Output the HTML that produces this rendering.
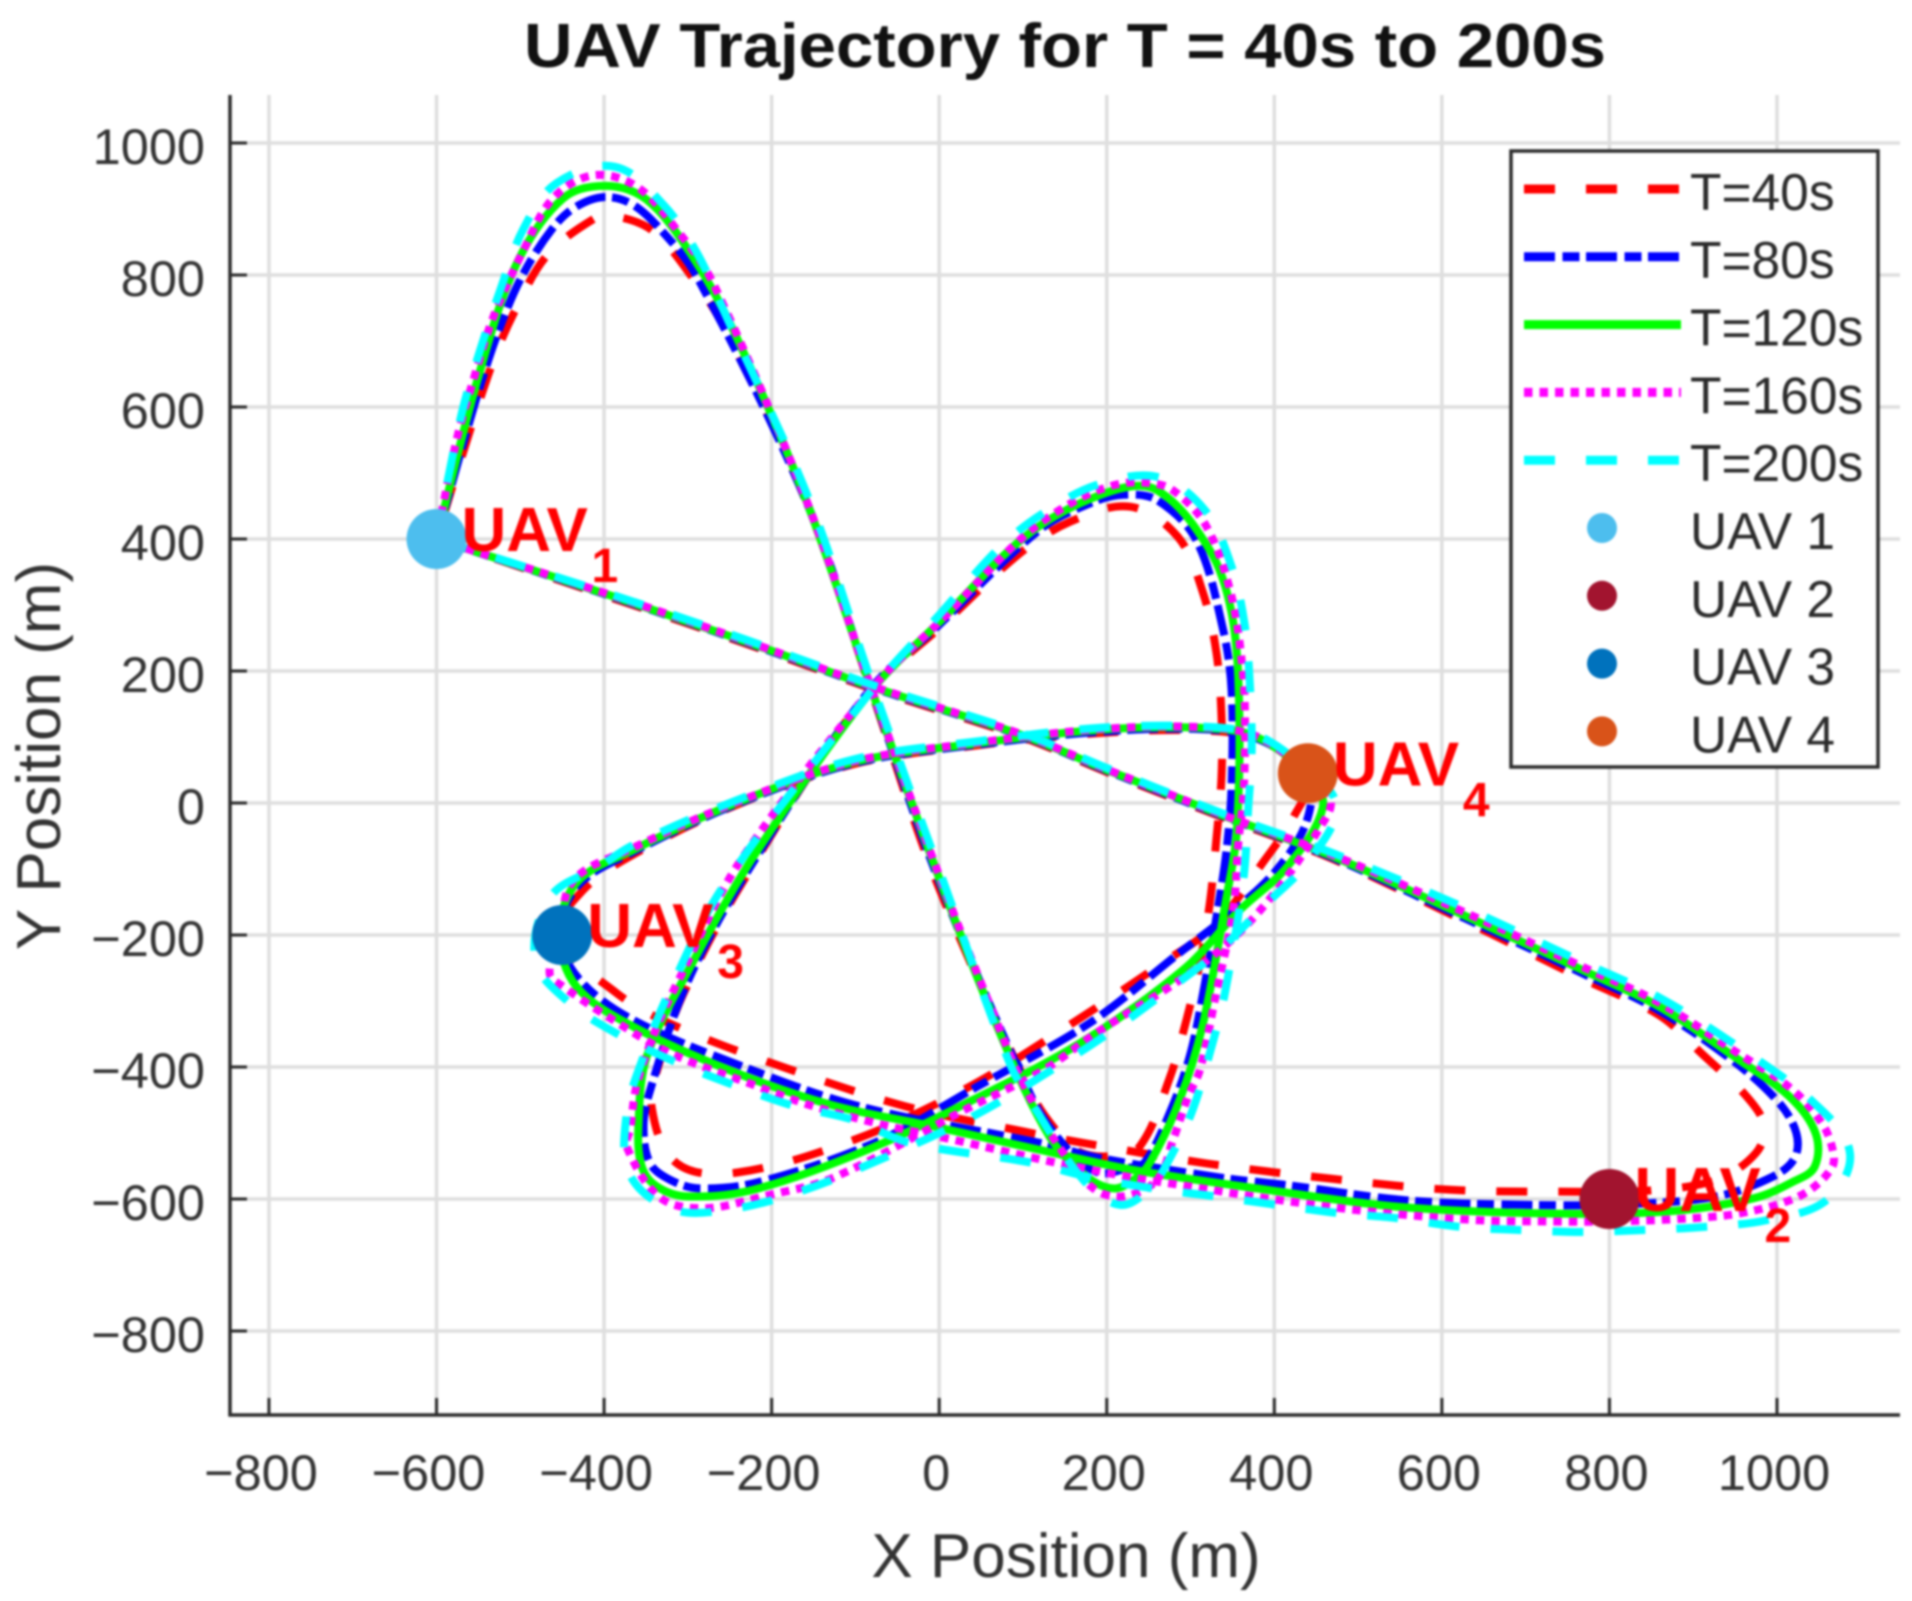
<!DOCTYPE html>
<html lang="en">
<head>
<meta charset="utf-8">
<title>UAV Trajectory for T = 40s to 200s</title>
<style>
  html, body { margin: 0; padding: 0; background: #ffffff; }
  svg { display: block; font-family: "Liberation Sans", Arial, sans-serif; filter: blur(1px); }
</style>
</head>
<body>
<svg id="chart" xmlns="http://www.w3.org/2000/svg" width="1912" height="1601" viewBox="0 0 1912 1601">
  <rect x="0" y="0" width="1912" height="1601" fill="#ffffff"/>
  <text x="1065" y="67" text-anchor="middle" font-size="62" font-weight="bold" fill="#111111" textLength="1082" lengthAdjust="spacingAndGlyphs">UAV Trajectory for T = 40s to 200s</text>
  <text x="1066" y="1577" text-anchor="middle" font-size="62" fill="#333333">X Position (m)</text>
  <text transform="translate(60 756) rotate(-90)" text-anchor="middle" font-size="62" fill="#333333">Y Position (m)</text>
  <g id="grid"></g>
  <g id="series"></g>
  <g id="markers"></g>
  <g id="labels"></g>
  <g id="axes"></g>
  <g id="legend"></g>
</svg>
<script>
// ---- chart data (metres) ----
const xTicks = [-800, -600, -400, -200, 0, 200, 400, 600, 800, 1000];
const yTicks = [-800, -600, -400, -200, 0, 200, 400, 600, 800, 1000];

const t40X = [-600,-389,-232,-73,101,200,343,470,626,771,860,912,964,985,975,930,850,757,610,466,319,172,102,-39,-182,-313,-385,-453,
  -425,-365,-248,-102,43,192,311,379,439,
  423,383,330,272,156,33,-103,-242,-313,-343,-333,-305,-238,-90,0,96,156,228,285,315,331,337,337,331,323,311,295,275,239,205,170,146,110,-3,-81,-158,-256,-295,-343,-390,-411,-468,-506,-534,-576,-600];
const t40Y = [400,310,242,170,99,47,-24,-85,-178,-268,-322,-382,-445,-490,-530,-570,-587,-589,-586,-569,-546,-515,-498,-460,-402,-339,-288,-200,
  -132,-78,-6,59,87,106,110,97,42,
  -21,-96,-185,-238,-336,-432,-511,-560,-546,-462,-389,-288,-127,160,265,378,426,449,403,318,227,131,40,-53,-152,-243,-329,-417,-521,-535,-530,-506,-440,-120,170,454,719,797,868,890,886,830,747,664,500,400];

const t80X = [-600,-389,-232,-73,101,200,343,470,626,771,860,952,1003,1023,1021,995,928,820,703,558,415,339,192,120,-94,-233,-365,-429,-453,
  -431,-365,-248,-102,43,192,311,379,439,
  439,403,345,287,180,45,-74,-214,-286,-321,-345,-353,-345,-301,-230,-85,0,120,184,220,260,307,339,349,349,343,333,315,299,275,245,225,190,150,110,-1,-81,-158,-289,-337,-369,-401,-434,-460,-496,-524,-552,-600];
const t80Y = [400,312,244,172,101,49,-22,-83,-174,-260,-315,-395,-455,-500,-538,-566,-596,-608,-609,-602,-579,-568,-538,-515,-460,-400,-329,-268,-200,
  -125,-74,-5,60,88,108,112,98,42,
  -26,-101,-170,-227,-333,-430,-513,-574,-584,-571,-546,-490,-435,-273,-106,168,270,414,456,467,459,398,262,171,25,-71,-157,-288,-384,-470,-545,-553,-560,-520,-445,-116,172,455,797,875,909,918,903,873,803,722,615,400];

const t120X = [-600,-389,-232,-73,101,200,343,470,626,771,860,952,1015,1046,1045,1019,972,868,729,550,391,232,104,-7,-127,-246,-365,-433,-453,
  -433,-365,-248,-102,43,192,311,379,439,
  458,415,359,291,168,40,-87,-222,-301,-337,-355,-359,-349,-297,-219,-81,0,108,204,260,323,349,358,355,343,315,287,251,232,208,176,132,76,0,-81,-158,-246,-297,-349,-397,-449,-504,-550,-600];
const t120Y = [400,313,245,173,102,50,-21,-81,-170,-255,-309,-387,-445,-500,-551,-574,-599,-619,-622,-612,-586,-556,-521,-490,-458,-407,-339,-278,-200,
  -121,-71,-3,62,90,111,114,100,42,
  -6,-97,-162,-253,-364,-450,-526,-586,-596,-581,-551,-490,-384,-248,-76,170,274,409,472,474,383,288,150,-46,-142,-334,-450,-546,-571,-584,-566,-506,-359,-114,173,456,717,833,914,935,916,818,646,400];

const t160X = [-600,-389,-232,-73,101,200,343,470,626,771,860,952,1019,1055,1067,1066,1043,1011,955,900,808,717,641,514,391,299,224,132,9,-66,-154,-222,-321,-389,-449,-465,-453,
  -437,-367,-248,-102,43,192,311,379,439,
  467,455,403,351,291,188,124,35,-127,-210,-280,-333,-373,-369,-361,-337,-305,-238,-79,5,100,160,210,248,279,319,349,363,365,363,357,351,331,311,297,279,260,220,184,140,102,76,1,-81,-158,-270,-313,-361,-413,-461,-496,-532,-556,-576,-600];
const t160Y = [400,314,246,174,103,51,-20,-79,-165,-250,-303,-378,-435,-488,-528,-551,-583,-604,-622,-629,-634,-634,-632,-619,-599,-581,-566,-543,-508,-488,-458,-427,-379,-329,-278,-258,-200,
  -118,-69,-2,63,91,112,115,101,46,
  4,-36,-132,-205,-265,-348,-405,-462,-568,-596,-614,-598,-521,-495,-427,-339,-253,-89,175,280,403,456,482,485,474,419,313,191,100,10,-61,-162,-286,-405,-445,-511,-571,-596,-584,-515,-430,-355,-113,174,457,788,868,934,951,916,838,737,641,550,400];

const t200X = [-600,-389,-232,-73,101,200,343,470,626,771,860,952,1043,1087,1059,988,916,841,767,693,620,546,474,403,329,255,176,110,-35,-103,-176,-246,-312,-381,-441,-482,-464,
  -405,-367,-248,-102,43,192,311,379,439,474,
  439,391,331,279,220,160,40,-103,-172,-242,-315,-369,-373,-353,-325,-258,-76,0,73,124,188,261,317,349,365,371,373,369,363,341,323,301,272,252,216,172,118,84,3,-79,-155,-254,-289,-329,-387,-457,-497,-524,-548,-568,-584,-600];
const t200Y = [400,315,248,176,105,53,-18,-76,-158,-243,-295,-368,-453,-530,-602,-632,-642,-647,-650,-647,-642,-629,-621,-609,-596,-584,-566,-545,-515,-480,-458,-427,-394,-352,-303,-238,-142,
  -96,-65,1,66,93,114,116,103,50,-6,
  -91,-152,-227,-278,-333,-384,-475,-558,-591,-614,-617,-564,-470,-384,-294,-127,178,285,388,439,482,494,444,358,267,176,80,-6,-117,-288,-379,-470,-546,-583,-609,-571,-470,-394,-112,176,459,737,833,906,964,939,868,777,686,600,505,400];

const seriesNames = ['T=40s', 'T=80s', 'T=120s', 'T=160s', 'T=200s'];
const uavNames = ['UAV 1', 'UAV 2', 'UAV 3', 'UAV 4'];
const uavX = [-600, 800, -450, 440];
const uavY = [400, -600, -200, 45];

// ---- styles ----
const seriesXs = [t40X, t80X, t120X, t160X, t200X];
const seriesYs = [t40Y, t80Y, t120Y, t160Y, t200Y];
const seriesColors = ['#ff0000', '#0000ff', '#00ff00', '#ff00ff', '#00ffff'];
const seriesDashes = ['31 31', '31 7.5 17 6.5', 'none', '8.5 7', '31 31'];
const uavColors = ['#4DBEEE', '#A2142F', '#0072BD', '#D95319'];
const INK = '#2b2b2b';

// ---- axis functions ----
const plotLeft = 230, plotRight = 1900, plotTop = 95, plotBottom = 1415;
function xScale(v) { return 939.2 + v * 0.8378; }
function yScale(v) { return 803 - v * 0.66; }

const NS = 'http://www.w3.org/2000/svg';
function make(tag, attrs, parent, text) {
  const node = document.createElementNS(NS, tag);
  for (const key in attrs) node.setAttribute(key, attrs[key]);
  if (text !== undefined) node.textContent = text;
  parent.appendChild(node);
  return node;
}

// smooth curve through the data points (no overshoot on uneven spacing)
function curvePath(xs, ys) {
  const n = Math.min(xs.length, ys.length);
  const px = [], py = [];
  for (let i = 0; i < n; i++) { px.push(xScale(xs[i])); py.push(yScale(ys[i])); }
  function tangent(i) {
    const a = Math.max(i - 1, 0), b = Math.min(i + 1, n - 1);
    const dx = px[b] - px[a], dy = py[b] - py[a];
    const len = Math.hypot(dx, dy) || 1;
    return [dx / len, dy / len];
  }
  let d = 'M' + px[0].toFixed(1) + ' ' + py[0].toFixed(1);
  for (let i = 0; i < n - 1; i++) {
    const seg = Math.hypot(px[i + 1] - px[i], py[i + 1] - py[i]) / 3;
    const t0 = tangent(i), t1 = tangent(i + 1);
    d += 'C' + (px[i] + t0[0] * seg).toFixed(1) + ' ' + (py[i] + t0[1] * seg).toFixed(1) + ' ' +
         (px[i + 1] - t1[0] * seg).toFixed(1) + ' ' + (py[i + 1] - t1[1] * seg).toFixed(1) + ' ' +
         px[i + 1].toFixed(1) + ' ' + py[i + 1].toFixed(1);
  }
  return d;
}

// ---- grid ----
const gridGroup = document.getElementById('grid');
xTicks.forEach(function (v) {
  const line = make('line', { x1: xScale(v), x2: xScale(v), y1: plotTop, y2: plotBottom, stroke: '#dedede', 'stroke-width': 3.5 }, gridGroup);
  
  
});
yTicks.forEach(function (v) {
  const line = make('line', { x1: plotLeft, x2: plotRight, y1: yScale(v), y2: yScale(v), stroke: '#dedede', 'stroke-width': 3.5 }, gridGroup);
  
  
});

// ---- series ----
const seriesGroup = document.getElementById('series');
seriesNames.forEach(function (name, i) {
  const path = make('path', {
    d: curvePath(seriesXs[i], seriesYs[i]),
    fill: 'none',
    stroke: seriesColors[i],
    'stroke-width': 8,
    'stroke-dasharray': seriesDashes[i],
    'stroke-linejoin': 'round'
  }, seriesGroup);
  
  
});

// ---- UAV markers and labels ----
const markerGroup = document.getElementById('markers');
const labelGroup = document.getElementById('labels');
uavNames.forEach(function (name, i) {
  const cx = xScale(uavX[i]), cy = yScale(uavY[i]);
  const dot = make('circle', { cx: cx, cy: cy, r: 30, fill: uavColors[i] }, markerGroup);
  
  

  const label = make('text', { x: cx + 25, y: cy + 12, fill: '#ff0000', 'font-size': 62, 'font-weight': 'bold' }, labelGroup);
  
  
  make('tspan', {}, label, 'UAV');
  make('tspan', { x: cx + 155, y: cy + 43, 'font-size': 48 }, label, String(i + 1));
});

// ---- axes ----
const axesGroup = document.getElementById('axes');
const yAxisLine = make('line', { x1: plotLeft, x2: plotLeft, y1: plotTop, y2: plotBottom + 1.5, stroke: INK, 'stroke-width': 3.5 }, axesGroup);


const xAxisLine = make('line', { x1: plotLeft - 1.5, x2: plotRight, y1: plotBottom, y2: plotBottom, stroke: INK, 'stroke-width': 3.5 }, axesGroup);



xTicks.forEach(function (v) {
  const tick = make('line', { x1: xScale(v), x2: xScale(v), y1: plotBottom, y2: plotBottom - 17, stroke: INK, 'stroke-width': 3 }, axesGroup);
  
  
  const label = make('text', { x: xScale(v) + (v < 0 ? -8 : -3), y: 1490, 'text-anchor': 'middle', 'font-size': 50.5, fill: '#333333' }, axesGroup, String(v).replace('-', '\u2212'));
  
  
});
yTicks.forEach(function (v) {
  const tick = make('line', { x1: plotLeft, x2: plotLeft + 17, y1: yScale(v), y2: yScale(v), stroke: INK, 'stroke-width': 3 }, axesGroup);
  
  
  const label = make('text', { x: 205, y: yScale(v) + 21, 'text-anchor': 'end', 'font-size': 50.5, fill: '#333333' }, axesGroup, String(v).replace('-', '\u2212'));
  
  
});

// ---- legend ----
const legendGroup = document.getElementById('legend');
const legendBox = make('rect', { x: 1511, y: 151, width: 367, height: 616, fill: '#ffffff', stroke: INK, 'stroke-width': 3.5 }, legendGroup);


function legendRow(i) { return 189 + i * 67.8; }

seriesNames.forEach(function (name, i) {
  const y = legendRow(i);
  const sample = make('line', { x1: 1524, x2: 1681, y1: y, y2: y, stroke: seriesColors[i], 'stroke-width': 9, 'stroke-dasharray': seriesDashes[i] }, legendGroup);
  
  
  const text = make('text', { x: 1690, y: y + 21, 'font-size': 51.5, fill: '#2b2b2b' }, legendGroup, name);
  
  
});
uavNames.forEach(function (name, i) {
  const y = legendRow(i + seriesNames.length);
  const dot = make('circle', { cx: 1602, cy: y, r: 15, fill: uavColors[i] }, legendGroup);
  
  
  const text = make('text', { x: 1690, y: y + 21, 'font-size': 51.5, fill: '#2b2b2b' }, legendGroup, name);
  
  
});
</script>
</body>
</html>
